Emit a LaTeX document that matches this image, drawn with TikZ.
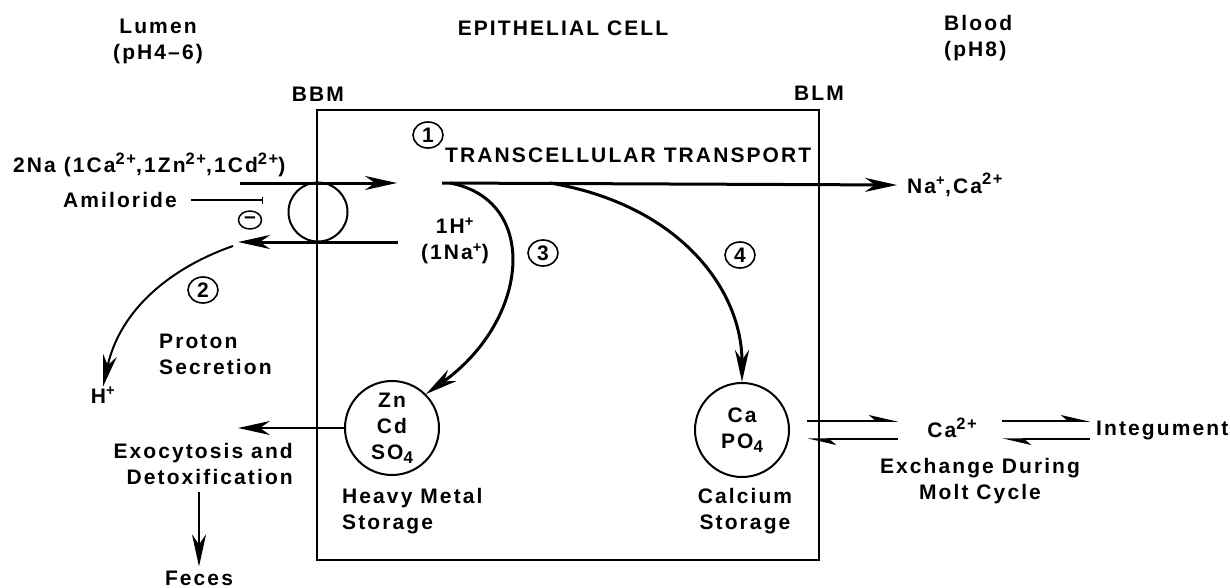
\documentclass[tikz,border=0pt]{standalone}
\usepackage{fontspec}
\setmainfont{Liberation Sans}[LetterSpace=10]
\usetikzlibrary{arrows.meta,shapes.geometric,positioning}

\newcommand{\chg}[1]{\raisebox{0.75ex}{\fontsize{16.5}{16}\selectfont #1}}
\newcommand{\idx}[1]{\raisebox{-0.4ex}{\fontsize{17}{16}\selectfont #1}}

\tikzset{
  lbl/.style={font=\fontsize{21}{26}\selectfont\bfseries, inner sep=0pt, align=center},
  num/.style={lbl, draw, ellipse, line width=1.6pt, minimum width=30pt, minimum height=26pt},
  store/.style={lbl, draw, circle, line width=2pt, minimum size=94pt},
  fat/.style={line width=3pt, -{Stealth[length=32pt,width=14pt,inset=10pt]}},
  lightarrow/.style={line width=1.8pt, -{Stealth[length=32pt,width=14pt,inset=10pt]}},
  eqarrow/.style={line width=1.5pt, -{Stealth[harpoon,length=26pt,width=12pt,inset=7pt]}}
}

\begin{document}
\begin{tikzpicture}[x=1pt,y=-1pt]
    \useasboundingbox (0,0) rectangle (1230,588);

    % Headings
    \node[lbl] (lumen) at (158,41) {Lumen\\(pH4--6)};
    \node[lbl] (cell) at (563,28) {EPITHELIAL CELL};
    \node[lbl,anchor=west,align=left] (blood) at (944,38) {Blood\\(pH8)};
    \node[lbl] (bbm) at (318,94) {BBM};
    \node[lbl] (blm) at (819,93) {BLM};

    % Cell
    \draw[line width=2pt] (317,110) rectangle (819,560);
    \node[draw, circle, line width=2pt, minimum size=59pt, inner sep=0pt] (carrier) at (318,212) {};

    % Transport across the BBM
    \node[lbl,anchor=west] (ions) at (13,165) {2Na (1Ca\chg{2+},1Zn\chg{2+},1Cd\chg{2+})};
    \coordinate (inA) at (240,183);
    \coordinate (inB) at (397,183);
    \draw[fat] (inA) -- (inB);
    \coordinate (outA) at (398,242);
    \coordinate (outB) at (238,242);
    \draw[fat] (outA) -- (outB);
    \node[lbl] (amil) at (120,200) {Amiloride};
    \coordinate (block) at (263,200);
    \draw[line width=1.2pt, -{Bar[width=7pt]}] ([xshift=14pt]amil.east) -- (block);
    \node[lbl, draw, ellipse, line width=1.5pt, minimum width=23pt, minimum height=18pt] (minus) at (250,220) {--};

    % Proton secretion
    \node[lbl] (hplus) at (455,241) {1H\textsuperscript{+}\\(1Na\textsuperscript{+})};
    \node[num] (n2) at (203,290) {2};
    \node[lbl,anchor=west,align=left] (proton) at (159,354) {Proton\\Secretion};
    \node[lbl] (h) at (103,395) {H\textsuperscript{+}};
    \draw[line width=2pt, -{Stealth[length=32pt,width=14pt,inset=10pt]}]
        (233,246) .. controls (170,268) and (120,310) .. (h.north);

    % Transcellular transport
    \node[num] (n1) at (428,135) {1};
    \node[lbl,anchor=west] (trans) at (445,155) {TRANSCELLULAR TRANSPORT};
    \coordinate (tcA) at (442,183);
    \node[lbl,anchor=west] (naca) at (907,185) {Na\textsuperscript{+},Ca\chg{2+}};
    \draw[fat] (tcA) -- ([xshift=-10pt]naca.west);

    % Storage
    \node[num] (n3) at (543,253) {3};
    \node[num] (n4) at (740,255) {4};
    \node[store] (znst) at (392,428) {Zn\\Cd\\SO\idx{4}};
    \node[store] (cast) at (742,430) {Ca\\PO\idx{4}};
    \coordinate (br3) at (450,183);
    \coordinate (br4) at (550,183);
    \draw[fat] (br3) .. controls (540,200) and (530,320) .. (znst.45);
    \draw[fat] (br4) .. controls (680,205) and (742,290) .. (cast.north);
    \node[lbl,anchor=west,align=left] (heavy) at (342,511) {Heavy Metal\\Storage};
    \node[lbl] (calc) at (745,511) {Calcium\\Storage};

    % Exocytosis
    \node[lbl,anchor=east,align=right] (exo) at (293,464) {Exocytosis and\\Detoxification};
    \coordinate (exotip) at (238,428);
    \draw[lightarrow] (znst.west) -- (exotip);
    \node[lbl] (feces) at (199,578) {Feces};
    \draw[lightarrow] (199,492) -- ([yshift=4pt]feces.north);

    % Calcium exchange
    \node[lbl] (ca) at (952,428) {Ca\chg{2+}};
    \node[lbl,anchor=west] (integ) at (1096,430) {Integument};
    \node[lbl] (molt) at (980,481) {Exchange During\\Molt Cycle};
    \draw[eqarrow] (807,421) -- (898,421);
    \draw[eqarrow] (898,439) -- (807,439);
    \draw[eqarrow] (1002,421) -- (1090,421);
    \draw[eqarrow] (1090,439) -- (1002,439);
\end{tikzpicture}
\end{document}
